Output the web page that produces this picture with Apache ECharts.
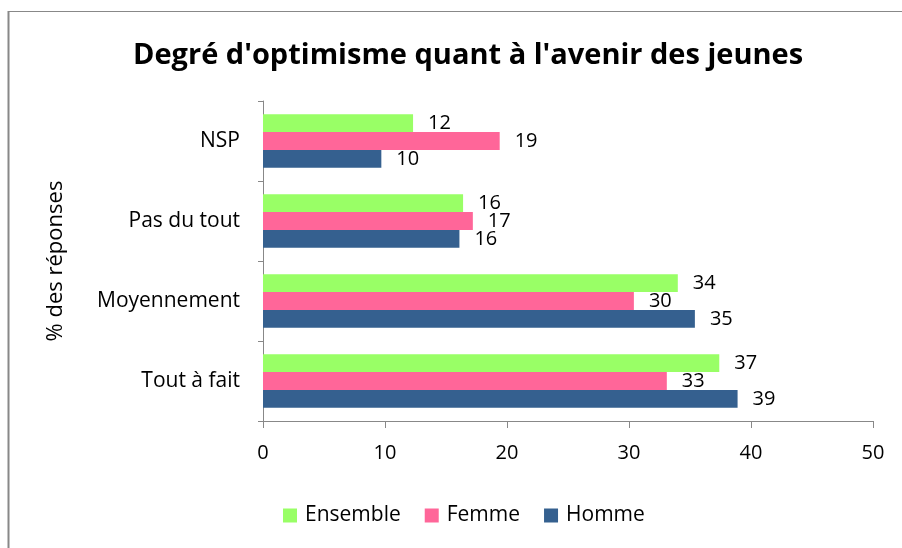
<!DOCTYPE html>
<html>
<head>
<meta charset="utf-8">
<script src="https://cdn.jsdelivr.net/npm/echarts@6/dist/echarts.min.js"></script>
<style>
  html, body { margin: 0; padding: 0; background: #fff; }
  #chart { width: 902px; height: 548px; }
</style>
</head>
<body>
<div id="chart"></div>
<script>
// categories from bottom to top
const categories = ['Tout à fait', 'Moyennement', 'Pas du tout', 'NSP']
const ensemble = [37.4, 34.0, 16.4, 12.3]
const femme = [33.1, 30.4, 17.2, 19.4]
const homme = [38.9, 35.4, 16.1, 9.7]
const xTicks = [0, 10, 20, 30, 40, 50]

const font = 'Open Sans'
const grey = '#888'

const chart = echarts.init(document.getElementById('chart'))

const barLabel = {
    show: true,
    position: 'right',
    distance: 15,
    fontFamily: font,
    fontSize: 20,
    color: '#000',
    formatter: (p) => Math.round(p.value),
}

const option = {
    animation: false,
    textStyle: { fontFamily: font },
    title: {
        text: "Degré d'optimisme quant à l'avenir des jeunes",
        left: 128,
        top: 36,
        textStyle: { fontFamily: font, fontWeight: 'bold', fontSize: 29, color: '#000' },
    },
    legend: {
        bottom: 17,
        left: 278,
        icon: 'rect',
        itemWidth: 14,
        itemHeight: 14,
        itemGap: 24,
        textStyle: { fontFamily: font, fontSize: 21, color: '#000', padding: [0, 0, 0, 3] },
        data: ['Ensemble', 'Femme', 'Homme'],
    },
    grid: { left: 263, top: 101, right: 29, bottom: 127 },
    xAxis: {
        type: 'value',
        min: xTicks[0],
        max: xTicks[xTicks.length - 1],
        interval: 10,
        axisLine: { show: true, lineStyle: { color: grey } },
        axisTick: { show: true, length: 7, lineStyle: { color: grey } },
        splitLine: { show: false },
        axisLabel: { fontFamily: font, fontSize: 20, color: '#000', margin: 22 },
    },
    yAxis: {
        type: 'category',
        data: categories,
        name: '% des réponses',
        nameLocation: 'middle',
        nameRotate: 90,
        nameGap: 196,
        nameTextStyle: { fontFamily: font, fontSize: 22, color: '#000' },
        axisLine: { show: true, lineStyle: { color: grey } },
        axisTick: { show: true, length: 5, lineStyle: { color: grey } },
        axisLabel: { fontFamily: font, fontSize: 21, color: '#000', margin: 23 },
    },
    series: [
        { name: 'Ensemble', type: 'bar', data: ensemble, itemStyle: { color: '#99ff66' },
          barGap: '0%', barCategoryGap: '33%', label: barLabel },
        { name: 'Femme', type: 'bar', data: femme, itemStyle: { color: '#ff6699' }, label: barLabel },
        { name: 'Homme', type: 'bar', data: homme, itemStyle: { color: '#35608f' }, label: barLabel },
    ],
    graphic: [
        {
            type: 'line',
            shape: { x1: 8, y1: 11.5, x2: 902, y2: 11.5 },
            style: { stroke: grey, lineWidth: 1 },
        },
        {
            type: 'line',
            shape: { x1: 8.5, y1: 11, x2: 8.5, y2: 548 },
            style: { stroke: grey, lineWidth: 2 },
        },
    ],
}

chart.setOption(option)
</script>
</body>
</html>
